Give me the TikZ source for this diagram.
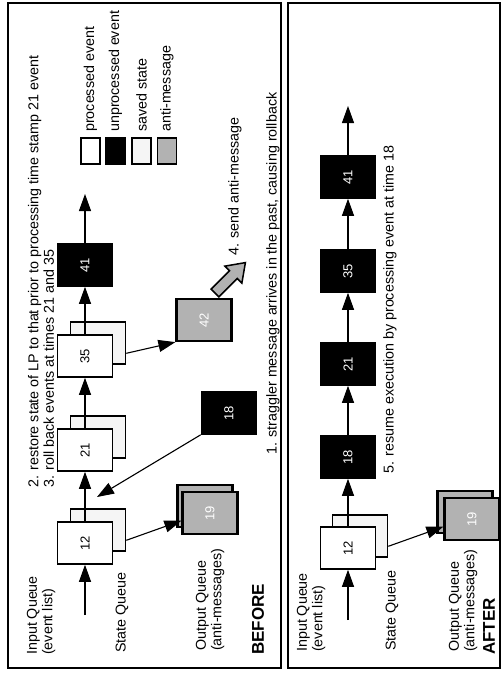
\documentclass[tikz,border=0pt]{standalone}
\usepackage{fontspec}
\setmainfont{Liberation Sans}
\usepackage{graphicx}
\usetikzlibrary{arrows.meta,positioning}

\tikzset{
	panel/.style={draw,line width=1.4pt},
	procbox/.style={draw,line width=1.6pt,fill=white,minimum width=55pt,minimum height=42pt,inner sep=0pt,font=\fontsize{13}{13}\selectfont},
	unprocbox/.style={procbox,fill=black,text=white},
	savedbox/.style={procbox,fill=gray!8},
	antibox/.style={procbox,fill=gray!60,line width=2.2pt,text=white},
	keybox/.style={draw,line width=1.3pt,minimum width=19pt,minimum height=26pt,inner sep=0pt},
	lbl/.style={rotate=90,anchor=west,inner sep=0pt,align=left,font=\fontsize{14.3}{15.5}\selectfont},
	title/.style={lbl,font=\fontsize{17}{17}\selectfont\bfseries},
	flow/.style={line width=1.1pt,-{Triangle[length=17pt,width=12pt]}},
	sendarrow/.style={draw,fill=gray!60,line width=1.5pt,line join=miter},
}

\begin{document}
\begin{tikzpicture}[x=1pt,y=-1pt]
	\useasboundingbox (0,0) rectangle (502,673);
	% panels
	\draw[panel] (8,3) rectangle (281,668);
	\draw[panel] (288,3) rectangle (500,668);
	
	% BEFORE
	\node[savedbox] (s12) at (98,530) {};
	\node[savedbox] (s21) at (98,437) {};
	\node[savedbox] (s35) at (98,343) {};
	\node[procbox] (b12) at (85,543) {\rotatebox{90}{12}};
	\node[procbox] (b21) at (85,450) {\rotatebox{90}{21}};
	\node[procbox] (b35) at (85,356) {\rotatebox{90}{35}};
	\node[unprocbox] (b41) at (85,265) {\rotatebox{90}{41}};
	\node[unprocbox] (b18) at (229,413) {\rotatebox{90}{18}};
	\node[antibox] (a19b) at (205,506) {};
	\node[antibox] (a19) at (210,513) {\rotatebox{90}{19}};
	\node[antibox] (a42) at (204,320) {\rotatebox{90}{42}};
	\coordinate (in0) at (85,615);
	\coordinate (top0) at (85,194);
	\coordinate (hit) at (97,497);
	\coordinate (send) at (215,293);
	
	\draw[flow] (in0) -- (b12);
	\draw[flow] (b12) -- (b21);
	\draw[flow] (b21) -- (b35);
	\draw[flow] (b35) -- (b41);
	\draw[flow] (b41) -- (top0);
	\draw[flow] (b18.south west) -- (hit);
	\draw[flow] (s12.-20) -- (a19.195);
	\draw[flow] (s35.-20) -- (a42.south west);
	
	% fat arrow of step 4
	\begin{scope}[shift={(send)},rotate=45]
		\draw[sendarrow] (0,-5.5) -- (26,-5.5) -- (26,-12) -- (43,0) -- (26,12) -- (26,5.5) -- (0,5.5) -- cycle;
	\end{scope}
	
	\node[lbl] (inq) at (41,655) {Input Queue\\(event list)};
	\node[lbl] (stq) at (122,653) {State Queue};
	\node[lbl] (outq) at (210,651) {Output Queue\\(anti-messages)};
	\node[title] (before) at (258,655) {BEFORE};
	\node[lbl] (step23) at (41,488) {2. restore state of LP to that prior to processing time stamp 21 event\\3. roll back events at times 21 and 35};
	\node[lbl] (step4) at (235,256) {4. send anti-message};
	\node[lbl] (step1) at (273,455) {1. straggler message arrives in the past, causing rollback};
	
	% legend
	\node[keybox,fill=white] (k1) at (90.5,151) {};
	\node[keybox,fill=black] (k2) at (115.5,151) {};
	\node[keybox,fill=gray!8] (k3) at (141.5,151) {};
	\node[keybox,fill=gray!60] (k4) at (167,151) {};
	\node[lbl] at (90.5,132) {processed event};
	\node[lbl] at (115.5,132) {unprocessed event};
	\node[lbl] at (141.5,132) {saved state};
	\node[lbl] at (167,132) {anti-message};
	
	% AFTER
	\node[savedbox] (s12a) at (360,536) {};
	\node[procbox] (b12a) at (348,548) {\rotatebox{90}{12}};
	\node[unprocbox] (b18a) at (348,457) {\rotatebox{90}{18}};
	\node[unprocbox] (b21a) at (348,364) {\rotatebox{90}{21}};
	\node[unprocbox] (b35a) at (348,271) {\rotatebox{90}{35}};
	\node[unprocbox] (b41a) at (348,177) {\rotatebox{90}{41}};
	\node[antibox] (a19ab) at (465,512) {};
	\node[antibox] (a19a) at (472,519) {\rotatebox{90}{19}};
	\coordinate (in1) at (348,620);
	\coordinate (top1) at (348,106);
	
	\draw[flow] (in1) -- (b12a);
	\draw[flow] (b12a) -- (b18a);
	\draw[flow] (b18a) -- (b21a);
	\draw[flow] (b21a) -- (b35a);
	\draw[flow] (b35a) -- (b41a);
	\draw[flow] (b41a) -- (top1);
	\draw[flow] (s12a.-20) -- (a19a.195);
	
	\node[lbl] (inqa) at (311,652) {Input Queue\\(event list)};
	\node[lbl] (stqa) at (392,651) {State Queue};
	\node[lbl] (outqa) at (463,652) {Output Queue\\(anti-messages)};
	\node[title] (after) at (489,655) {AFTER};
	\node[lbl] (step5) at (390,474) {5. resume execution by processing event at time 18};
\end{tikzpicture}
\end{document}
